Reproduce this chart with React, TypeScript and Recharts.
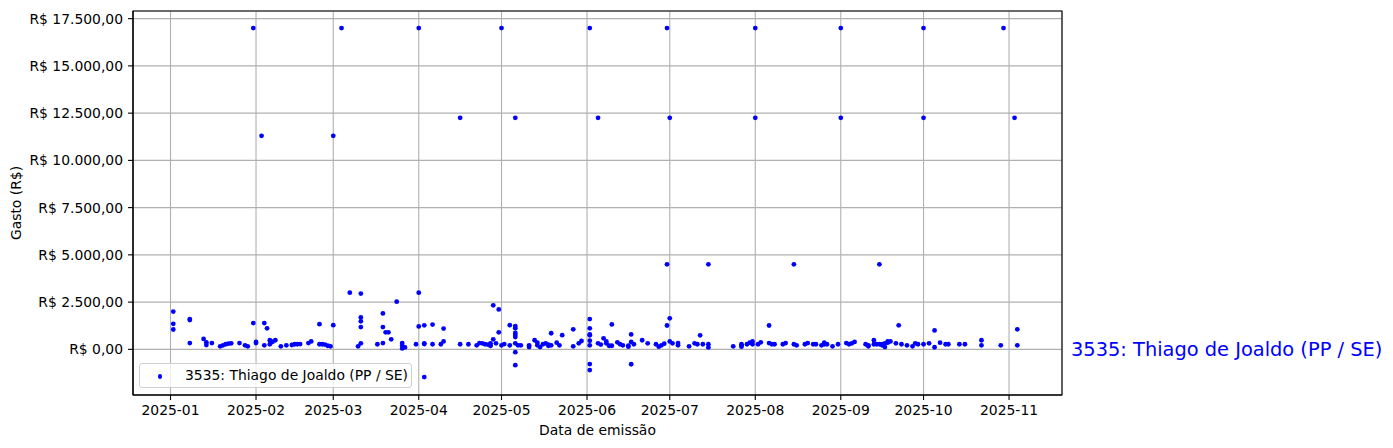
import React from 'react';
import {
  ScatterChart,
  Scatter,
  XAxis,
  YAxis,
  CartesianGrid,
  ReferenceArea,
  ReferenceLine,
  Legend,
} from 'recharts';

const seriesName = '3535: Thiago de Joaldo (PP / SE)';
const xAxisTitle = 'Data de emissão';
const yAxisTitle = 'Gasto (R$)';

const emissionDates: string[] = [
  '2025-01-02', '2025-01-08', '2025-01-13', '2025-01-14', '2025-01-16', '2025-01-19', '2025-01-20',
  '2025-01-21', '2025-01-22', '2025-01-23', '2025-01-26', '2025-01-28', '2025-01-29', '2025-01-31',
  '2025-02-01', '2025-02-03', '2025-02-04', '2025-02-05', '2025-02-06', '2025-02-07', '2025-02-08',
  '2025-02-10', '2025-02-12', '2025-02-14', '2025-02-15', '2025-02-16', '2025-02-17', '2025-02-20',
  '2025-02-21', '2025-02-24', '2025-02-25', '2025-02-26', '2025-02-27', '2025-02-28',
  '2025-03-01', '2025-03-04', '2025-03-07', '2025-03-10', '2025-03-11', '2025-03-17', '2025-03-19',
  '2025-03-20', '2025-03-21', '2025-03-22', '2025-03-24', '2025-03-26', '2025-03-27', '2025-03-31',
  '2025-04-01', '2025-04-03', '2025-04-06', '2025-04-09', '2025-04-10', '2025-04-16', '2025-04-19',
  '2025-04-22', '2025-04-23', '2025-04-24', '2025-04-25', '2025-04-26', '2025-04-27', '2025-04-28',
  '2025-04-29', '2025-04-30',
  '2025-05-01', '2025-05-02', '2025-05-04', '2025-05-06', '2025-05-07', '2025-05-08', '2025-05-11',
  '2025-05-13', '2025-05-14', '2025-05-15', '2025-05-16', '2025-05-17', '2025-05-18', '2025-05-19',
  '2025-05-21', '2025-05-22', '2025-05-23', '2025-05-27', '2025-05-29', '2025-05-30',
  '2025-06-02', '2025-06-05', '2025-06-06', '2025-06-07', '2025-06-08', '2025-06-09', '2025-06-10',
  '2025-06-12', '2025-06-13', '2025-06-14', '2025-06-16', '2025-06-17', '2025-06-18', '2025-06-21',
  '2025-06-23', '2025-06-26', '2025-06-27', '2025-06-28', '2025-06-29', '2025-06-30',
  '2025-07-01', '2025-07-02', '2025-07-04', '2025-07-08', '2025-07-10', '2025-07-11', '2025-07-12',
  '2025-07-13', '2025-07-15', '2025-07-24', '2025-07-27', '2025-07-29', '2025-07-30', '2025-07-31',
  '2025-08-01', '2025-08-02', '2025-08-03', '2025-08-06', '2025-08-07', '2025-08-08', '2025-08-11',
  '2025-08-12', '2025-08-15', '2025-08-16', '2025-08-19', '2025-08-20', '2025-08-22', '2025-08-23',
  '2025-08-25', '2025-08-26', '2025-08-27', '2025-08-29', '2025-08-31',
  '2025-09-01', '2025-09-03', '2025-09-04', '2025-09-05', '2025-09-06', '2025-09-10', '2025-09-11',
  '2025-09-13', '2025-09-14', '2025-09-15', '2025-09-16', '2025-09-17', '2025-09-18', '2025-09-19',
  '2025-09-21', '2025-09-22', '2025-09-23', '2025-09-25', '2025-09-27', '2025-09-28', '2025-09-29',
  '2025-10-01', '2025-10-03', '2025-10-05', '2025-10-07', '2025-10-09', '2025-10-10', '2025-10-14',
  '2025-10-16', '2025-10-22', '2025-10-29', '2025-10-30',
  '2025-11-03', '2025-11-04',
];

const amountsByDate: number[][] = [
  [2000, 1350, 1050], [1600, 1550, 330], [550], [370, 230], [330], [160], [210],
  [270], [300], [320], [330], [210], [160], [17000, 1390],
  [390, 330], [11300], [1390, 210], [1110], [480, 270], [400], [480],
  [160], [210], [230], [270], [270], [280], [330],
  [420], [1330, 270], [270], [250], [190], [160],
  [11300, 1280], [17000], [3000], [160], [2950, 1690, 1480, 1180, 320], [270], [1900, 1180, 330],
  [900], [900], [530], [2520], [330, 200, 50], [100], [270],
  [17000, 3000, 1210], [1270, 280, 320, -1470], [1310, 270], [270], [1100, 420], [12250, 270], [270],
  [210], [330], [320], [270], [250], [190, 210, 320], [2330, 530],
  [320], [2110, 900],
  [17000, 210], [280], [1280, 210], [12250, 1230, 1120, 870, 760, 650, 320, -150, -840], [210], [210], [210, 120],
  [480], [350, 210], [120], [270], [320], [250, 190], [850, 210],
  [350], [210], [750], [1060, 160], [320], [440],
  [17000, 1600, 1110, 790, 740, 460, 210, -780, -1100], [12250, 320], [250], [580], [420, 320], [190], [1320, 190],
  [370], [270], [210], [190, 140], [790, 390, -790], [270], [480],
  [320], [270], [140], [210], [300], [17000, 4500, 1260],
  [12250, 1640, 420], [320], [330, 210], [160], [320], [270], [740],
  [270], [4500, 270, 100], [160], [210, 140, 270], [270], [350], [420, 270],
  [17000, 12250], [270], [370], [1260, 330], [270], [270], [270],
  [330], [4500, 270], [210], [270], [330], [270], [270],
  [210], [350, 270], [270], [160], [270],
  [17000, 12250], [330], [270], [320], [390], [270], [160, 210],
  [480, 270], [270], [4500, 270], [270, 210], [120, 320], [350, 420], [420],
  [320], [1270], [270], [210], [160], [320], [270],
  [17000, 12250, 270], [320], [1000, 110], [350], [270], [270], [270],
  [270], [480, 210], [210], [17000],
  [12250], [1060, 210],
];

const monthTickLabels: string[] = [
  '2025-01', '2025-02', '2025-03', '2025-04', '2025-05', '2025-06',
  '2025-07', '2025-08', '2025-09', '2025-10', '2025-11',
];

const valueTicks: number[] = [0, 2500, 5000, 7500, 10000, 12500, 15000, 17500];

const DAY = 86400000;
const toTime = (d: string) => Date.parse(d + 'T00:00:00Z');
const JAN1 = toTime('2025-01-01');
const xDomain: [number, number] = [JAN1 - 13.6 * DAY, JAN1 + 323.2 * DAY];
const yDomain: [number, number] = [-2417, 17906];

const points = emissionDates.flatMap((d, i) =>
  amountsByDate[i].map((v) => ({ t: toTime(d), v }))
);

const monthTicks = monthTickLabels.map((m) => toTime(m + '-01'));

const fmtBRL = (n: number) => {
  const neg = n < 0;
  const abs = Math.abs(n);
  const int = Math.floor(abs);
  const cents = Math.round((abs - int) * 100);
  const intStr = String(int).replace(/\B(?=(\d{3})+(?!\d))/g, '.');
  return (neg ? '-' : '') + 'R$ ' + intStr + ',' + String(cents).padStart(2, '0');
};

const fmtMonth = (t: number) => {
  const d = new Date(t);
  return d.getUTCFullYear() + '-' + String(d.getUTCMonth() + 1).padStart(2, '0');
};

const FONT = '"DejaVu Sans", sans-serif';
const BLUE = '#0000ff';

const Dot = (props: any) => {
  const { cx, cy } = props;
  if (cx == null || cy == null) return null;
  return <circle cx={cx} cy={cy} r={2.4} fill={BLUE} />;
};

const SideLabel = (props: any) => {
  const vb = props.viewBox || {};
  const x = (vb.x || 0) + (vb.width || 0) + 9;
  const y = (vb.y || 0) + (vb.height || 0) / 2;
  return (
    <text x={x} y={y} fill={BLUE} fontSize={19.4} fontFamily={FONT} dominantBaseline="central">
      {seriesName}
    </text>
  );
};

const XTitle = (props: any) => {
  const vb = props.viewBox || {};
  return (
    <text x={vb.x + vb.width / 2} y={435} fill="#000" fontSize={13.9} fontFamily={FONT} textAnchor="middle">
      {xAxisTitle}
    </text>
  );
};

const YTitle = () => (
  <text
    x={16}
    y={203}
    transform="rotate(-90 16 203)"
    fill="#000"
    fontSize={13.9}
    fontFamily={FONT}
    textAnchor="middle"
    dominantBaseline="central"
  >
    {yAxisTitle}
  </text>
);

const LegendBox = () => (
  <div
    style={{
      width: 271,
      height: 23,
      border: '1px solid #d0d0d0',
      borderRadius: 3,
      background: 'rgba(255,255,255,0.8)',
      position: 'relative',
      fontFamily: FONT,
      fontSize: 13.9,
      color: '#000',
      boxSizing: 'content-box',
    }}
  >
    <span
      style={{
        position: 'absolute',
        left: 17.5,
        top: 10.2,
        width: 4.8,
        height: 4.8,
        borderRadius: '50%',
        background: BLUE,
      }}
    />
    <span style={{ position: 'absolute', left: 45, top: 2, whiteSpace: 'nowrap', lineHeight: '19px' }}>
      {seriesName}
    </span>
  </div>
);

export default function App() {
  return (
    <div style={{ position: 'absolute', left: 0, top: 0, width: 1393, height: 448, background: '#fff' }}>
      <ScatterChart width={1393} height={448} margin={{ top: 11, right: 331, left: 0, bottom: 0 }}>
        <CartesianGrid stroke="#b0b0b0" strokeWidth={1.1} />
        <XAxis
          type="number"
          dataKey="t"
          domain={xDomain}
          ticks={monthTicks}
          tickFormatter={fmtMonth}
          allowDataOverflow
          height={53}
          tickSize={5}
          tickMargin={5}
          stroke="#000"
          axisLine={{ stroke: '#000', strokeWidth: 1.1 }}
          tickLine={{ stroke: '#000', strokeWidth: 1.1 }}
          tick={{ fill: '#000', fontSize: 13.9, fontFamily: FONT }}
          label={<XTitle />}
        />
        <YAxis
          type="number"
          dataKey="v"
          domain={yDomain}
          ticks={valueTicks}
          tickFormatter={fmtBRL}
          allowDataOverflow
          width={133}
          tickSize={5}
          tickMargin={5}
          stroke="#000"
          axisLine={{ stroke: '#000', strokeWidth: 1.1 }}
          tickLine={{ stroke: '#000', strokeWidth: 1.1 }}
          tick={{ fill: '#000', fontSize: 13.9, fontFamily: FONT }}
          label={<YTitle />}
        />
        <ReferenceArea
          x1={xDomain[0]}
          x2={xDomain[1]}
          y1={yDomain[0]}
          y2={yDomain[1]}
          fill="none"
          fillOpacity={0}
          stroke="#000"
          strokeWidth={1.1}
          ifOverflow="visible"
        />
        <ReferenceLine y={0} stroke="none" strokeOpacity={0} label={<SideLabel />} ifOverflow="visible" />
        <Scatter name={seriesName} data={points} fill={BLUE} shape={<Dot />} isAnimationActive={false} />
        <Legend
          layout="vertical"
          verticalAlign="middle"
          align="center"
          wrapperStyle={{ left: 139, top: 363, width: 274 }}
          content={<LegendBox />}
        />
      </ScatterChart>
    </div>
  );
}
